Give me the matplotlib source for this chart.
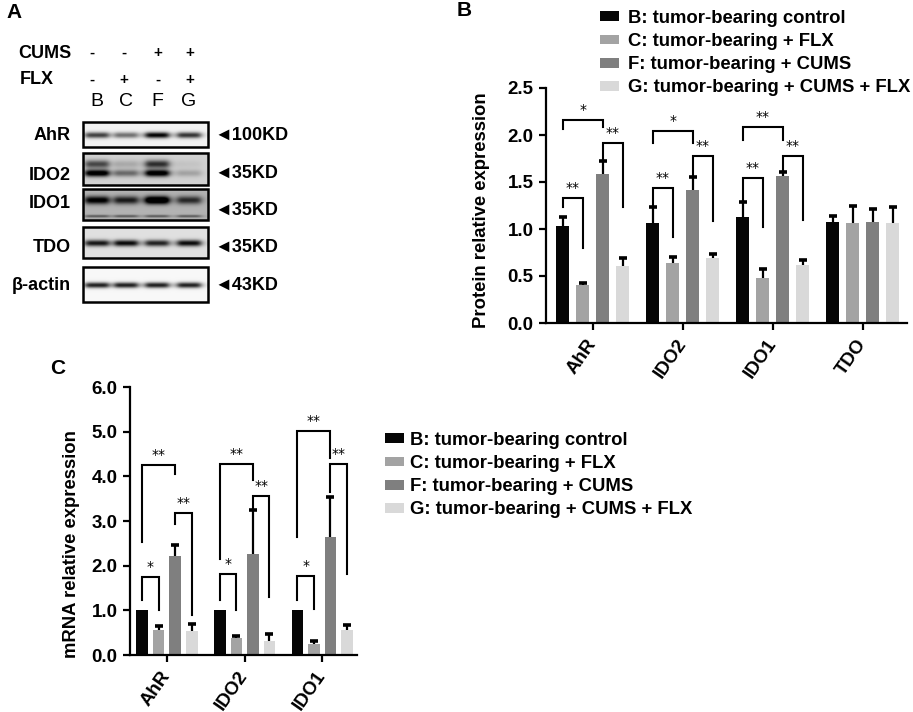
import numpy as np
import matplotlib
matplotlib.use("Agg")
import matplotlib.pyplot as plt
from matplotlib.patches import Rectangle

plt.rcParams['font.family'] = ['Liberation Sans', 'DejaVu Sans']
plt.rcParams['font.weight'] = 'bold'
plt.rcParams['axes.labelweight'] = 'bold'

W, H = 913, 712

# ---------------- data ----------------
group_labels = ["B: tumor-bearing control", "C: tumor-bearing + FLX",
                "F: tumor-bearing + CUMS", "G: tumor-bearing + CUMS + FLX"]
group_colors = ['#050505', '#a3a3a3', '#7f7f7f', '#d9d9d9']

# panel B, protein
prot_genes = ["AhR", "IDO2", "IDO1", "TDO"]
prot_B = [1.03, 1.06, 1.13, 1.07]
prot_C = [0.40, 0.64, 0.48, 1.06]
prot_F = [1.59, 1.41, 1.56, 1.07]
prot_G = [0.61, 0.69, 0.62, 1.06]
prot_B_err = [0.10, 0.17, 0.16, 0.07]
prot_C_err = [0.03, 0.06, 0.09, 0.19]
prot_F_err = [0.13, 0.14, 0.05, 0.14]
prot_G_err = [0.08, 0.04, 0.05, 0.17]
# (gene, bar i, bar j, top, left leg end, right leg end, label)
prot_sig = [(0, 0, 2, 2.16, 2.06, 2.08, "*"), (0, 0, 1, 1.33, 1.23, 0.80, "**"),
            (0, 2, 3, 1.92, 1.72, 1.23, "**"),
            (1, 0, 2, 2.04, 1.92, 1.92, "*"), (1, 0, 1, 1.44, 1.23, 0.91, "**"),
            (1, 2, 3, 1.78, 1.55, 1.09, "**"),
            (2, 0, 2, 2.09, 1.95, 1.95, "**"), (2, 0, 1, 1.54, 1.28, 1.02, "**"),
            (2, 2, 3, 1.78, 1.62, 1.10, "**")]

# panel C, mRNA
mrna_genes = ["AhR", "IDO2", "IDO1"]
mrna_B = [1.0, 1.0, 1.0]
mrna_C = [0.55, 0.38, 0.25]
mrna_F = [2.22, 2.27, 2.65]
mrna_G = [0.53, 0.32, 0.55]
mrna_B_err = [0.0, 0.0, 0.0]
mrna_C_err = [0.10, 0.04, 0.07]
mrna_F_err = [0.25, 0.97, 0.89]
mrna_G_err = [0.16, 0.16, 0.12]
mrna_sig = [(0, 0, 1, 1.75, 1.23, 1.00, "*"), (0, 0, 2, 4.25, 2.53, 4.06, "**"),
            (0, 2, 3, 3.17, 2.94, 0.89, "**"),
            (1, 0, 1, 1.81, 1.23, 1.00, "*"), (1, 0, 2, 4.28, 2.16, 3.91, "**"),
            (1, 2, 3, 3.55, 3.24, 1.29, "**"),
            (2, 0, 1, 1.77, 1.23, 1.02, "*"), (2, 0, 2, 5.01, 2.65, 4.40, "**"),
            (2, 2, 3, 4.27, 3.65, 1.81, "**")]

# panel A, western blot
lane_names = ["B", "C", "F", "G"]
cums_signs = ["-", "-", "+", "+"]
flx_signs = ["-", "+", "-", "+"]
blot_names = ["AhR", "IDO2", "IDO1", "TDO", "β-actin"]
blot_sizes = ["100KD", "35KD", "35KD", "35KD", "43KD"]
band_ahr = [0.70, 0.50, 0.95, 0.75]
band_ido2 = [0.95, 0.40, 0.95, 0.18]
band_ido2_upper = [0.55, 0.15, 0.65, 0.05]
band_ido1 = [0.75, 0.60, 1.00, 0.55]
band_ido1_lower = [0.35, 0.35, 0.35, 0.35]
band_tdo = [0.80, 0.85, 0.75, 0.85]
band_actin = [0.85, 0.85, 0.85, 0.85]
blot_bg = [0.05, 0.18, 0.30, 0.12, 0.03]

fig = plt.figure(figsize=(W / 100, H / 100), dpi=100)

# ---------------- panel A (pixel coordinate overlay) ----------------
ax0 = fig.add_axes([0, 0, 1, 1])
ax0.axis('off')

lane_x = [97, 126, 157, 189]
box_left, box_right = 83, 208
boxes = [(122, 147), (153, 185), (189, 220), (227, 258), (267, 302)]
label_y = [135, 175, 203, 247, 285]
kd_y = [135, 173, 210, 247, 285]

# band layout inside each box: list of (rel y, sigma, intensities)
band_sets = [
    [(13, 3.0, band_ahr)],
    [(20, 3.5, band_ido2), (11, 4.0, band_ido2_upper)],
    [(11, 4.0, band_ido1), (27, 1.3, band_ido1_lower)],
    [(16, 3.2, band_tdo)],
    [(18, 2.8, band_actin)],
]

for k, (y0, y1) in enumerate(boxes):
    h = y1 - y0
    w = box_right - box_left
    yy, xx = np.mgrid[0:h * 3, 0:w * 3] / 3.0
    dark = np.full(yy.shape, blot_bg[k])
    for rel_y, sy, intens in band_sets[k]:
        for lx, a in zip(lane_x, intens):
            px = 1.0 / (1.0 + ((xx - (lx - box_left)) / 12.0) ** 6)
            py = np.exp(-((yy - rel_y) / sy) ** 2)
            dark += a * px * py
    img = 1.0 - np.clip(dark, 0, 1)
    ax0.imshow(img, cmap='gray', vmin=0, vmax=1, aspect='auto',
               extent=(box_left, box_right, y1, y0), origin='upper',
               interpolation='bilinear')
    ax0.add_patch(Rectangle((box_left, y0), w, h, fill=False, lw=1.8,
                            edgecolor='black'))
    ax0.text(71, label_y[k], blot_names[k], ha='right', va='center', fontsize=13)
    ax0.text(214, kd_y[k], "◄" + blot_sizes[k], ha='left', va='center',
             fontsize=13)

ax0.text(18, 53, "CUMS", ha='left', va='center', fontsize=13)
ax0.text(20, 80, "FLX", ha='left', va='center', fontsize=13)
sign_x = [92, 124, 158, 190]
for sx, c, f, lx, n in zip(sign_x, cums_signs, flx_signs, lane_x, lane_names):
    ax0.text(sx, 53, c, ha='center', va='center', fontsize=11)
    ax0.text(sx, 80, f, ha='center', va='center', fontsize=11)
    ax0.text(lx, 102, n, ha='center', va='center', fontsize=14, weight='normal')

ax0.text(14, 12, "A", ha='center', va='center', fontsize=15)
ax0.text(464, 10, "B", ha='center', va='center', fontsize=15)
ax0.text(58, 368, "C", ha='center', va='center', fontsize=15)
ax0.set_xlim(0, W)
ax0.set_ylim(H, 0)


# ---------------- bar panels ----------------
def bar_panel(ax, genes, vals, errs, sig, spacing, width, ymax, ystep):
    x = np.arange(len(genes))
    offs = (np.arange(4) - 1.5) * spacing
    for i in range(4):
        xi = x + offs[i]
        e = np.array(errs[i])
        tops = np.array(vals[i]) + e
        ax.bar(xi, vals[i], width=width, color=group_colors[i],
               label=group_labels[i], zorder=2)
        # upper error bars only, with a short cap
        has = e > 0
        ax.vlines(xi[has], np.array(vals[i])[has], tops[has], color='black',
                  lw=1.6, zorder=3)
        ax.plot(xi[has], tops[has], ls='none', marker='_', ms=6, mew=2.6,
                color='black', zorder=3)
    for g, i, j, top, yl, yr, lab in sig:
        xl, xr = g + offs[i], g + offs[j]
        ax.plot([xl, xl, xr, xr], [yl, top, top, yr], color='black', lw=1.5,
                zorder=4, solid_joinstyle='miter')
        ax.text((xl + xr) / 2, top + ymax * 0.012, lab, ha='center', va='bottom',
                fontsize=10, family=['DejaVu Sans'], weight='normal')
    ax.set_ylim(0, ymax)
    ticks = np.arange(0, ymax + 1e-9, ystep)
    ax.set_yticks(ticks)
    ax.set_yticklabels([f"{v:.1f}" for v in ticks])
    ax.set_xticks(x)
    ax.set_xticklabels(genes, rotation=55, ha='right', va='center',
                       rotation_mode='anchor')
    for s in ['top', 'right']:
        ax.spines[s].set_visible(False)
    for s in ['left', 'bottom']:
        ax.spines[s].set_linewidth(1.6)
    ax.tick_params(axis='both', width=1.6, length=5, labelsize=13.5, pad=4)
    ax.tick_params(axis='x', pad=8)


axB = fig.add_axes([546 / W, 1 - 323 / H, (907 - 546) / W, (323 - 88) / H])
bar_panel(axB, prot_genes,
          [prot_B, prot_C, prot_F, prot_G],
          [prot_B_err, prot_C_err, prot_F_err, prot_G_err],
          prot_sig, 20 / 90, 13 / 90, 2.5, 0.5)
axB.set_xlim(-0.522, 3.49)
axB.set_ylabel("Protein relative expression", fontsize=13.3)
axB.yaxis.set_label_coords(-0.155, 0.48)

axC = fig.add_axes([130 / W, 1 - 655 / H, (357 - 130) / W, (655 - 387) / H])
bar_panel(axC, mrna_genes,
          [mrna_B, mrna_C, mrna_F, mrna_G],
          [mrna_B_err, mrna_C_err, mrna_F_err, mrna_G_err],
          mrna_sig, 16.5 / 77.5, 11.5 / 77.5, 6.0, 1.0)
axC.set_xlim(-0.477, 2.45)
axC.set_ylabel("mRNA relative expression", fontsize=13.3)
axC.yaxis.set_label_coords(-0.22, 0.414)

handles, labels = axB.get_legend_handles_labels()
leg_kw = dict(frameon=False, fontsize=13.3, handlelength=1.05, handleheight=0.45,
              handletextpad=0.45, labelspacing=0.33, borderaxespad=0,
              borderpad=0, loc='upper left')
fig.legend(handles, labels, bbox_to_anchor=(600 / W, 1 - 10 / H), **leg_kw)
leg_kw2 = dict(leg_kw)
leg_kw2['handletextpad'] = 0.3
fig.legend(handles, labels, bbox_to_anchor=(385 / W, 1 - 432 / H), **leg_kw2)

fig.savefig("out.png", dpi=100)
